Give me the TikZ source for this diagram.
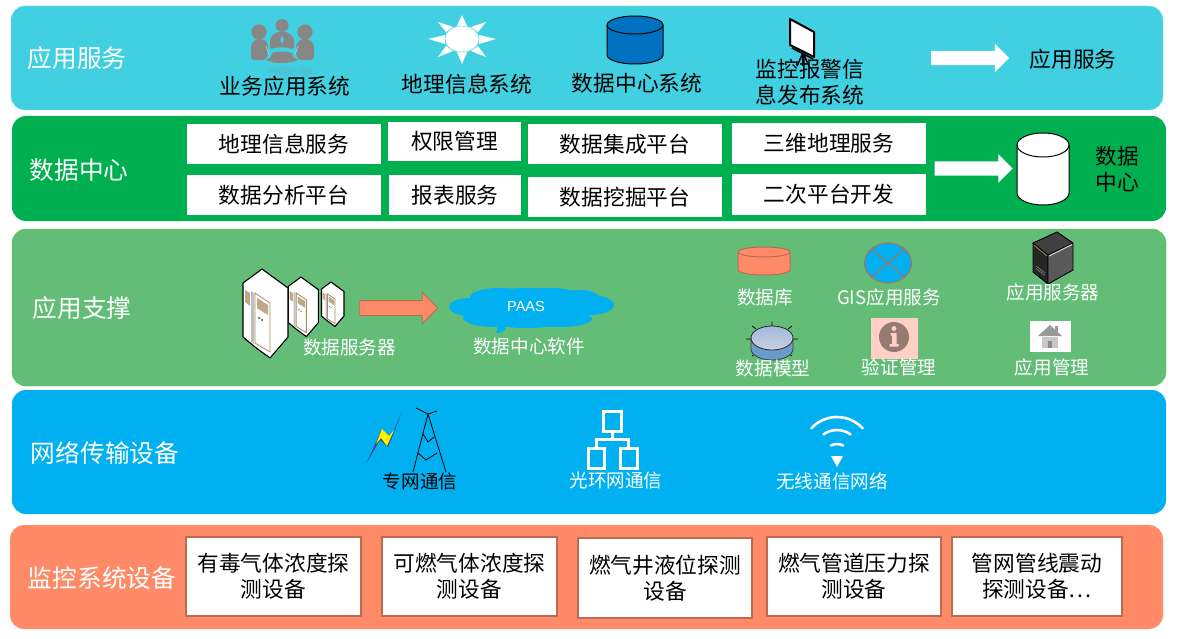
\documentclass[tikz,border=0pt]{standalone}
\usepackage{fontspec}
\setmainfont{Noto Sans CJK SC}
\newfontfamily\latinfont{Liberation Sans}
\usetikzlibrary{shapes.arrows}

\definecolor{bandcyan}{HTML}{41D0E1}
\definecolor{bandgreen}{HTML}{00B050}
\definecolor{bandmoss}{HTML}{63BD77}
\definecolor{bandblue}{HTML}{00B0F0}
\definecolor{bandorange}{HTML}{FF8A67}
\definecolor{drumblue}{HTML}{0070C0}
\definecolor{rustline}{HTML}{BC6A50}
\definecolor{cabtan}{HTML}{A98B62}
\definecolor{peoplegray}{HTML}{878787}
\definecolor{infopink}{HTML}{FFD0C5}
\definecolor{infobrown}{HTML}{957B72}
\definecolor{disctop}{HTML}{A4B9DE}
\definecolor{discbot}{HTML}{C8D0E0}
\definecolor{discside}{HTML}{6A9BCB}

\newcommand{\drum}[7]{% x, top, rx, ry, height, fill, draw
  \draw[fill=#6,draw=#7,line width=1pt] (#1-#3,#2+#4) -- (#1-#3,#2+#5-#4)
    arc[x radius=#3,y radius=#4,start angle=180,end angle=0]
    -- (#1+#3,#2+#4) arc[x radius=#3,y radius=#4,start angle=0,end angle=-180] -- cycle;
  \draw[draw=#7,line width=1pt] (#1-#3,#2+#4)
    arc[x radius=#3,y radius=#4,start angle=180,end angle=0];
}
\newcommand{\cabinet}[3]{% apex x, apex y, scale
  \begin{scope}[shift={(#1,#2)},scale=#3]
    \draw[fill=white,line width=1.1pt,line join=round] (0,0) -- (26,19) -- (26,68) -- (8,89)
      -- (-7,78) -- (-19,68) -- (-19,14) -- cycle;
    \fill[black!25] (-11,22) -- (-8,24) -- (-8,75) -- (-11,73) -- cycle;
    \draw[cabtan,fill=white,line width=.8pt] (-7,24) -- (8,34) -- (8,83) -- (-7,74) -- cycle;
    \fill[cabtan!75] (-5,29) -- (6,36) -- (6,46) -- (-5,39) -- cycle;
    \fill[cabtan!75] (-17,21) -- (-12,24) -- (-12,37) -- (-17,33) -- cycle;
    \fill[black!80] (-3,49) circle[radius=1] (0,51) circle[radius=1];
  \end{scope}
}

\begin{document}
\begin{tikzpicture}[x=1pt,y=-1pt]
  \tikzstyle{band}=[rectangle,rounded corners=14pt,anchor=north west,inner sep=0,outer sep=0]
  \tikzstyle{whitebox}=[rectangle,fill=white,inner sep=0,outer sep=0,align=center,
    font=\fontsize{21.7}{26}\selectfont]
  \tikzstyle{devbox}=[whitebox,draw=rustline,line width=1.6pt]
  \tikzstyle{bandlabel}=[inner sep=0,xshift=1pt,text=white,font=\fontsize{24.7}{30}\selectfont]
  \tikzstyle{blacklabel}=[inner sep=0,align=center,font=\fontsize{21.7}{26}\selectfont]
  \tikzstyle{smalllabel}=[inner sep=0,text=white,font=\fontsize{18.6}{22}\selectfont]
  \tikzstyle{blockarrow}=[single arrow,fill=white,inner xsep=0,inner ysep=7pt,outer sep=0,minimum height=78pt,
    minimum width=28pt,single arrow head extend=7pt,single arrow head indent=0pt]

  \useasboundingbox (0,0) rectangle (1182,639);
  \fill[white] (0,0) rectangle (1182,639);

  \node[band,fill=bandcyan,draw=bandcyan!60,minimum width=1152pt,minimum height=104pt] (appband) at (11,6) {};
  \node[band,fill=bandgreen,minimum width=1154pt,minimum height=105pt] (databand) at (12,116) {};
  \node[band,fill=bandmoss,draw=green!45!bandmoss,minimum width=1154pt,minimum height=157pt] (supband) at (12,229) {};
  \node[band,fill=bandblue,minimum width=1154pt,minimum height=124pt] (netband) at (12,390) {};
  \node[band,fill=bandorange,draw=bandorange!50,minimum width=1153pt,minimum height=104pt] (monband) at (10,525) {};

  % people
  \fill[peoplegray,opacity=.15] (282,71) ellipse[x radius=15,y radius=4] (305,71) ellipse[x radius=8,y radius=4];
  \fill[peoplegray] (282,25.5) circle[radius=6.5] (259,32) circle[radius=7.6] (305,32) circle[radius=7.6];
  \fill[peoplegray,rounded corners=3pt] (270,50) -- (270,38) -- (276,32) -- (288,32) -- (294,38) -- (294,50)
    .. controls (288,47) and (276,47) .. (270,50) -- cycle;
  \fill[peoplegray,rounded corners=3pt] (251,60) -- (251,44) -- (256,39) -- (264,39) -- (268,44) -- (268,54) -- (266,60) -- cycle;
  \fill[peoplegray,rounded corners=3pt] (314,60) -- (314,44) -- (309,39) -- (301,39) -- (296,44) -- (296,54) -- (298,60) -- cycle;
  \fill[peoplegray] (272,53) .. controls (278,51) and (286,51) .. (292,53) -- (293,57) -- (298,60)
    .. controls (292,64) and (272,64) .. (266,60) -- (271,57) -- cycle;
  \fill[bandcyan] (282,35) -- (284,40) -- (282,44) -- (280,40) -- cycle;
  \draw[bandcyan!70,line width=.8pt] (266,46) -- (269,55) (298,46) -- (295,55);

  % sun
  \foreach \tipx/\tipy/\ax/\ay/\bx/\by in {462/15/456/28/468/28, 462/64/456/50/468/50,
      428/39/445/35/445/44, 496/39/479/35/479/44, 438/22/446/32/453/27, 486/22/478/32/471/27,
      438/57/446/46/453/51, 486/57/478/46/471/51}
    \fill[white] (\tipx,\tipy) -- (\ax,\ay) -- (\bx,\by) -- cycle;
  \draw[fill=white,draw=bandcyan!60,line width=.8pt] (462,39) ellipse[x radius=17,y radius=13];

  \drum{635}{16}{28}{9}{48}{drumblue}{black}

  % easel
  \draw[fill=white,line width=2pt,line join=round] (790,19) -- (814,32) -- (814,57) -- (790,45) -- cycle;
  \draw[line width=1.6pt] (792,48) -- (813,59) (803,53) -- (797,66) (803,53) -- (809,66) (803,53) -- (803,66);

  \node[blockarrow] (apparrow) at (966.5,58) {};
  \node[blockarrow] (dataarrow) at (970,168.5) {};
  \drum{1043}{133}{26}{12}{72}{white}{black}

  \node[blacklabel] (biz) at (285,86) {业务应用系统};
  \node[blacklabel] (geo) at (467,84) {地理信息系统};
  \node[blacklabel] (dcsys) at (637,83) {数据中心系统};
  \node[blacklabel] (alarm) at (810,82) {监控报警信\\息发布系统};
  \node[blacklabel] (appsvc) at (1073,59) {应用服务};
  \node[blacklabel] (dcname) at (1117,169) {数据\\中心};

  \node[bandlabel] (l1) at (76,58) {应用服务};
  \node[bandlabel] (l2) at (78,170) {数据中心};
  \node[bandlabel] (l3) at (81,308) {应用支撑};
  \node[bandlabel] (l4) at (104,453) {网络传输设备};
  \node[bandlabel] (l5) at (101,578) {监控系统设备};

  \node[whitebox,minimum width=194pt,minimum height=40pt] (b1) at (284,144) {地理信息服务};
  \node[whitebox,minimum width=133pt,minimum height=39pt] (b2) at (454.5,141.5) {权限管理};
  \node[whitebox,minimum width=194pt,minimum height=40pt] (b3) at (625,144.5) {数据集成平台};
  \node[whitebox,minimum width=194pt,minimum height=41pt] (b4) at (829,143.5) {三维地理服务};
  \node[whitebox,minimum width=194pt,minimum height=40pt] (b5) at (284,195) {数据分析平台};
  \node[whitebox,minimum width=132pt,minimum height=40pt] (b6) at (455,195) {报表服务};
  \node[whitebox,minimum width=194pt,minimum height=40pt] (b7) at (625,197) {数据挖掘平台};
  \node[whitebox,minimum width=194pt,minimum height=41pt] (b8) at (829,194.5) {二次平台开发};

  % data servers
  \cabinet{331}{282}{.5}
  \cabinet{301}{277}{.67}
  \cabinet{262}{269}{1}
  \node[blockarrow,fill=bandorange,draw=rustline,line width=.8pt,inner ysep=7pt,minimum height=78pt,minimum width=30pt,
    single arrow head extend=8pt] (softarrow) at (395,308) {};

  % cloud
  \foreach \cx/\cy/\rx/\ry in {527/308/62/20, 470/307/21/9, 590/305/24/10, 500/297/30/9, 550/296/30/8,
      495/318/32/9, 560/319/32/8, 580/297/18/7}
    \fill[bandblue] (\cx,\cy) ellipse[x radius=\rx,y radius=\ry];
  \fill[bandblue] (500,325) -- (506,328) .. controls (504,332) and (500,333) .. (496,333) .. controls (498,331) and (498,328) .. (497,325) -- cycle;
  \node[inner sep=0,text=white,font=\latinfont\fontsize{14.5}{17}\selectfont] (paas) at (526,307) {PAAS};

  \node[smalllabel] (dbsrv) at (349.5,347) {数据服务器};
  \node[smalllabel] (dcsoft) at (529,346) {数据中心软件};

  \drum{764}{247}{26}{5}{28}{bandorange}{rustline}
  \draw[fill=bandblue,draw=rustline,line width=1pt] (888,263) ellipse[x radius=23.5,y radius=20];
  \draw[rustline,line width=1pt] (871.5,249) -- (904.5,277) (904.5,249) -- (871.5,277);

  % tower server
  \draw[fill=black!85,line width=.9pt,line join=round] (1033,243) -- (1048,255) -- (1048,284) -- (1033,272) -- cycle;
  \draw[fill=black!65,line width=.9pt,line join=round] (1048,255) -- (1073,243) -- (1073,270) -- (1048,284) -- cycle;
  \draw[fill=black!75,line width=.9pt,line join=round] (1033,243) -- (1057,232) -- (1073,243) -- (1048,255) -- cycle;
  \draw[white!85!black,line width=1pt] (1049,256) -- (1072,244.5);
  \draw[cabtan,line width=.8pt] (1034,245) -- (1047,256);
  \draw[black!40,line width=.5pt] (1036,266) -- (1045,273) (1036,268.5) -- (1045,275.5);

  % disc
  \draw[line width=.7pt] (772,322) -- (772,326) (746,339) -- (751,339) (793,339) -- (798,339)
    (752,326) -- (756,329) (792,326) -- (788,329) (752,356) -- (756,353) (792,356) -- (788,353);
  \draw[fill=discside,draw=black!75,line width=.8pt] (751,339) -- (751,349)
    arc[x radius=21,y radius=11,start angle=180,end angle=0] -- (793,339) -- cycle;
  \draw[top color=disctop,bottom color=discbot,draw=black!85,line width=.8pt] (772,338) ellipse[x radius=21,y radius=12];

  % info
  \fill[infopink] (871,318) rectangle (918,359);
  \fill[infobrown] (894,337) circle[radius=15];
  \fill[infopink] (894,328.5) circle[radius=2.4];
  \fill[infopink] (890.5,333) -- (896.5,333) -- (896.5,344) -- (898.5,344) -- (898.5,346.5) -- (889.5,346.5) -- (889.5,344) -- (892,344) -- (892,335.5) -- (890.5,335.5) -- cycle;

  % house
  \fill[white] (1030,321) rectangle (1071,352);
  \fill[black!40] (1055,326) rectangle (1058,333);
  \fill[black!40] (1050,325) -- (1062,336) -- (1038,336) -- cycle;
  \fill[black!22] (1042,337) rectangle (1058,348);
  \fill[black!45] (1048,341) rectangle (1052,348);

  \node[smalllabel] (dblab) at (765,297) {数据库};
  \node[smalllabel] (gislab) at (889,297) {GIS应用服务};
  \node[smalllabel] (srvlab) at (1053,292) {应用服务器};
  \node[smalllabel] (modlab) at (773,368) {数据模型};
  \node[smalllabel] (vallab) at (899,367) {验证管理};
  \node[smalllabel] (mgrlab) at (1052,367) {应用管理};

  % lightning and tower
  \fill[black!55!blue!45!gray] (402.5,411) -- (391,437) -- (382,429) -- (366.5,463) -- (380,440) -- (388,447) -- cycle;
  \fill[yellow] (382,429) -- (389,436) -- (394,430) -- (387,446) -- (381,438) -- (376,444) -- cycle;
  \draw[line width=.8pt] (416,408) -- (428,414) -- (437,411) (413,472) -- (428,414) -- (446,472)
    (423,434) -- (428,442) -- (434,437) (418,453) -- (426,460) -- (437,453);

  % fibre tree
  \draw[white,line width=3pt] (603,411) rectangle (621,431) (588,448) rectangle (604,468) (620,448) rectangle (637,468);
  \draw[white,line width=3pt] (612,431) -- (612,439) (596,448) -- (596,439) -- (628,439) -- (628,448);

  % wifi
  \fill[white] (831,456) -- (843,456) -- (837,467) -- cycle;
  \draw[white,line width=2.6pt,line cap=round] (837,457) ++(242:13) arc[radius=13,start angle=242,end angle=298];
  \draw[white,line width=2.6pt,line cap=round] (837,453) ++(234:23) arc[radius=23,start angle=234,end angle=306];
  \draw[white,line width=2.6pt,line cap=round] (837,452) ++(223:35) arc[radius=35,start angle=223,end angle=317];

  \node[smalllabel,text=black] (prilab) at (420,481) {专网通信};
  \node[smalllabel] (optlab) at (616,480) {光环网通信};
  \node[smalllabel] (wifilab) at (832,481) {无线通信网络};

  \node[devbox,minimum width=175pt,minimum height=79pt] (d1) at (273.5,576.5) {有毒气体浓度探\\测设备};
  \node[devbox,minimum width=175pt,minimum height=79pt] (d2) at (469.5,576.5) {可燃气体浓度探\\测设备};
  \node[devbox,minimum width=174pt,minimum height=80pt] (d3) at (665,578) {燃气井液位探测\\设备};
  \node[devbox,minimum width=174pt,minimum height=79pt] (d4) at (854,576.5) {燃气管道压力探\\测设备};
  \node[devbox,minimum width=170pt,minimum height=79pt] (d5) at (1037,576.5) {管网管线震动\\探测设备…};
\end{tikzpicture}
\end{document}
